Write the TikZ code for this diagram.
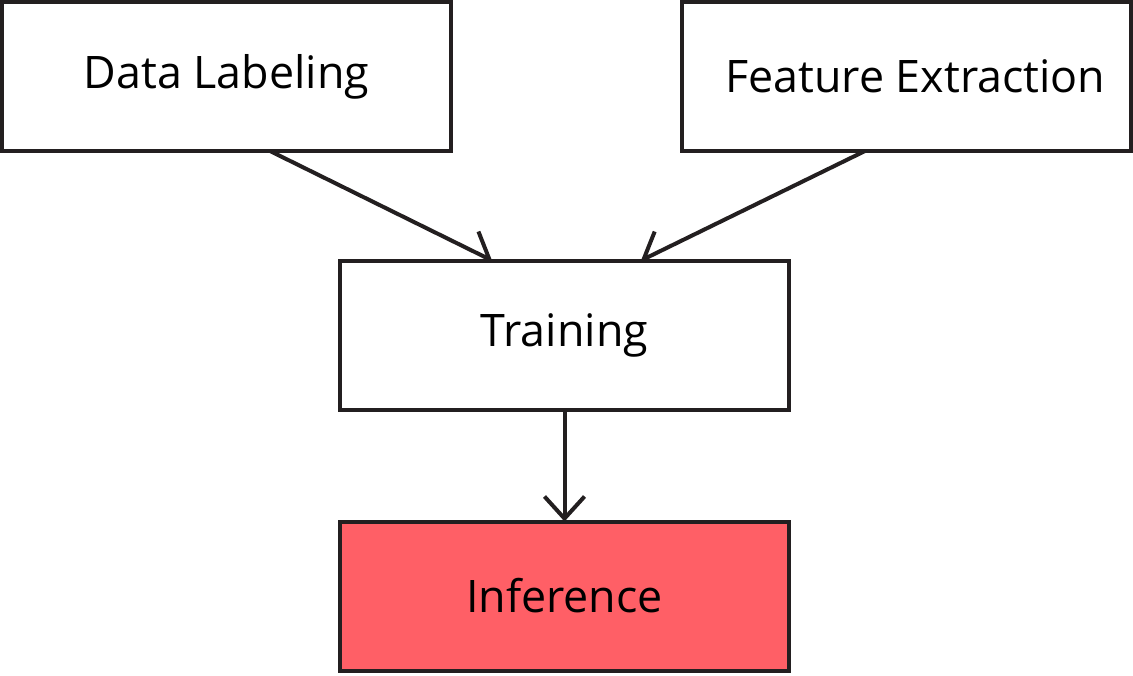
\documentclass[tikz,border=0pt]{standalone}
\usepackage{fontspec}
\setmainfont{Open Sans}
\usetikzlibrary{arrows.meta}
\pgfdeclarelayer{background}
\pgfsetlayers{background,main}
\definecolor{ink}{HTML}{231F20}
\definecolor{hot}{HTML}{FF5F66}
\begin{document}
\begin{tikzpicture}[x=0.567pt,y=-0.567pt,
  stage/.style={draw=ink, line width=2.27pt, fill=white, rectangle, outer sep=0pt,
    minimum width=449*0.567pt, minimum height=149*0.567pt, inner sep=0pt,
    font=\fontsize{25.4}{29}\selectfont, text=black},
  flow/.style={draw=ink, line width=2.27pt,
    -{Straight Barb[length=12.5pt, width=22.7pt, line width=2.27pt]}}]
  \useasboundingbox (0,0) rectangle (1133,675);
  \node[stage] (dl)  at (226.5,76.5) {Data Labeling};
  \node[stage] (fe)  at (906.5,76.5) {\hspace{10pt}Feature Extraction};
  \node[stage] (tr)  at (564.5,335)  {Training};
  \node[stage, fill=hot] (inf) at (564.5,596) {Inference};
  \begin{pgfonlayer}{background}
    \draw[flow] ([xshift=268*0.567pt]dl.south west) -- ([xshift=152*0.567pt]tr.north west);
    \draw[flow] ([xshift=183*0.567pt]fe.south west) -- ([xshift=301*0.567pt]tr.north west);
    \draw[flow] (tr.south) -- (inf.north);
  \end{pgfonlayer}
\end{tikzpicture}
\end{document}
